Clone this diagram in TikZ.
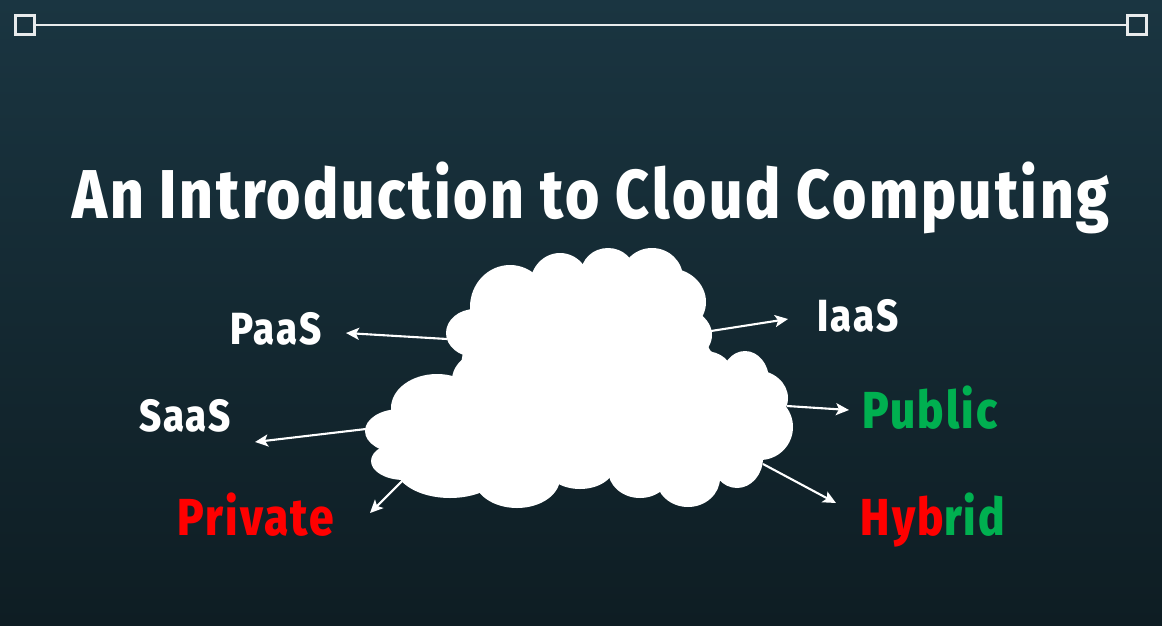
\documentclass[tikz,border=0pt]{standalone}
\usepackage{fontspec}
\setmainfont{Fira Sans}
\newfontfamily\lblfont[FakeStretch=0.85,LetterSpace=4,BoldFont={Fira Sans ExtraBold}]{Fira Sans}
\definecolor{bgtop}{HTML}{1A3541}
\definecolor{bgbot}{HTML}{0E1D23}
\definecolor{pubgreen}{HTML}{00B050}
\definecolor{privred}{HTML}{FF0000}
\tikzset{
  puff/.style={fill=white,draw=none},
  ptr/.style={draw=white,line width=2.1pt,-{Stealth[length=13pt,width=12pt,inset=3pt]}},
  handle/.style={draw=white!90!bgtop,line width=2.8pt,fill=none,minimum size=18.5pt,inner sep=0pt},
  rail/.style={draw=white!90!bgtop,line width=2.6pt},
  title/.style={text=white,font=\lblfont\bfseries\fontsize{69}{69}\selectfont,inner sep=0pt,anchor=base},
  lbl/.style={text=white,font=\lblfont\bfseries\fontsize{45}{45}\selectfont,inner sep=0pt,anchor=base},
  lbig/.style={font=\lblfont\bfseries\fontsize{52}{52}\selectfont,inner sep=0pt,anchor=base}
}
\usetikzlibrary{arrows.meta}
\begin{document}
\begin{tikzpicture}[x=1pt,y=-1pt]
\useasboundingbox (0,0) rectangle (1162,625);
\shade[top color=bgtop,bottom color=bgbot] (0,0) rectangle (1162,625);
% frame
\node[handle] (hl) at (25,25) {};
\node[handle] (hr) at (1137,25) {};
\draw[rail] (hl) -- (hr);
% cloud
\fill[puff] (470,310) -- (670,275) -- (710,350) -- (780,420) -- (740,470) -- (420,470) -- (400,420) -- (460,370) -- cycle;
\foreach \cx/\cy/\rx/\ry in {
 510/307/40/42, 560/285/30/32, 608/273/27/25, 652/278/31/30, 668/302/38/34, 670/335/42/30,
 475/333/29/24, 490/380/38/30, 437/408/46/34, 400/431/35/22, 404/461/33/19,
 450/466/55/32, 517/478/43/30, 580/465/35/24, 640/470/32/28, 688/478/32/29,
 737/458/26/30, 760/427/33/33, 755/398/33/28, 745/380/24/29, 705/375/28/24}
 {\fill[puff] (\cx,\cy) ellipse [x radius=\rx, y radius=\ry];}
% text
\node[title] (ttl) at (591,218) {An Introduction to Cloud Computing};
\node[lbl] (paas) at (276,344) {PaaS};
\node[lbl] (iaas) at (858,331) {IaaS};
\node[lbl] (saas) at (185,431) {SaaS};
\node[lbig,text=pubgreen] (pub) at (930,428) {Public};
\node[lbig,text=privred] (prv) at (256,535) {Private};
\node[lbig] (hyb) at (933,535) {\textcolor{privred}{Hyb}\textcolor{pubgreen}{rid}};
% connectors
\coordinate (a1) at (447,339); \coordinate (b1) at (346,333);
\coordinate (a2) at (711,331); \coordinate (b2) at (788,319);
\coordinate (a3) at (787,406); \coordinate (b3) at (849,410);
\coordinate (a4) at (763,464); \coordinate (b4) at (836,503);
\coordinate (a5) at (366,429); \coordinate (b5) at (255,442);
\coordinate (a6) at (402,481); \coordinate (b6) at (370,513);
\draw[ptr] (a1) -- (b1);
\draw[ptr] (a2) -- (b2);
\draw[ptr] (a3) -- (b3);
\draw[ptr] (a4) -- (b4);
\draw[ptr] (a5) -- (b5);
\draw[ptr] (a6) -- (b6);
\end{tikzpicture}
\end{document}
